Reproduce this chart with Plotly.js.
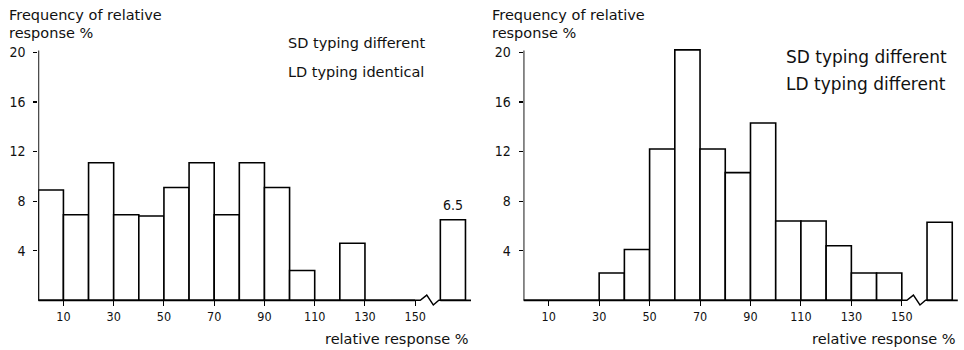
<!DOCTYPE html>
<html>
<head>
<meta charset="utf-8">
<script src="https://cdn.plot.ly/plotly-3.0.1.min.js"></script>
<style>
  html, body { margin: 0; padding: 0; background: #fff; }
  #chart { width: 964px; height: 350px; }
</style>
</head>
<body>
<div id="chart"></div>
<script>
// Relative response bins (lower edge, %). The last bin collects everything above 150
// and is drawn after a short break in the x axis.
const binStarts = [0, 10, 20, 30, 40, 50, 60, 70, 80, 90, 100, 110, 120, 130, 140, 150];
const binWidth = 10;
const breakGap = 10;

// Frequency of relative response (%) per bin
const ldIdentical = [8.9, 6.9, 11.1, 6.9, 6.8, 9.1, 11.1, 6.9, 11.1, 9.1, 2.4, 0, 4.6, 0, 0, 6.5];
const ldDifferent = [0, 0, 0, 2.2, 4.1, 12.2, 20.2, 12.2, 10.3, 14.3, 6.4, 6.4, 4.4, 2.2, 2.2, 6.3];

// Bins whose value is written above the bar (left panel)
const labelledLeft = [150];

const xTickVals = [10, 30, 50, 70, 90, 110, 130, 150];
const yTickVals = [4, 8, 12, 16, 20];

const panelTitles = [
  ['SD typing different', 'LD typing identical'],
  ['SD typing different', 'LD typing different']
];
const yTitleLines = ['Frequency of relative', 'response %'];
const xTitle = 'relative response %';

const textFont = 'DejaVu Sans, Noto Sans, sans-serif';
const numFont = 'Liberation Sans Narrow, DejaVu Sans Condensed, Arial Narrow, Liberation Sans, sans-serif';
const ink = '#111';

// Bin centre on the drawn axis (the overflow bin sits past the break)
const binCentre = s => (s >= 150 ? s + breakGap : s) + binWidth / 2;
const xs = binStarts.map(binCentre);

function barTrace(values, xa, ya) {
  return {
    type: 'bar',
    x: xs,
    y: values,
    width: binWidth,
    xaxis: xa,
    yaxis: ya,
    marker: { color: '#fff', line: { color: '#000', width: 1.6 } },
    hoverinfo: 'skip',
    showlegend: false
  };
}

function xAxis(domain) {
  return {
    domain: domain,
    range: [0, 172.4],
    tickvals: xTickVals,
    ticktext: xTickVals.map(String),
    ticks: 'inside',
    ticklen: 6,
    tickwidth: 1,
    tickcolor: '#000',
    ticklabelstandoff: 1,
    showline: false,
    showgrid: false,
    zeroline: false,
    tickfont: { family: numFont, size: 12.5, color: ink },
    fixedrange: true
  };
}

function yAxis(anchor) {
  return {
    domain: [0.1243, 0.8611],
    range: [-0.5, 20.3],
    anchor: anchor,
    tickvals: yTickVals,
    ticktext: yTickVals.map(String),
    ticks: 'outside',
    ticklen: 4,
    tickwidth: 1.2,
    tickcolor: '#000',
    ticklabelstandoff: 5,
    showline: false,
    showgrid: false,
    zeroline: false,
    tickfont: { family: numFont, size: 14, color: ink },
    fixedrange: true
  };
}

// Axis lines with the broken baseline between 150 and the overflow bin
function axisShapes(xr, yr) {
  const line = { color: '#000', width: 1.8 };
  return [
    { type: 'line', xref: xr, yref: yr, x0: 0, x1: 0, y0: 0, y1: 20.15, line: line, layer: 'above' },
    { type: 'line', xref: xr, yref: yr, x0: 0, x1: 150, y0: 0, y1: 0, line: line, layer: 'above' },
    { type: 'path', xref: xr, yref: yr, layer: 'above', line: { color: '#000', width: 1.4 },
      path: 'M150,0 L152,0 L154.6,0.42 L157.2,-0.38 L159.4,0 L160,0' },
    { type: 'line', xref: xr, yref: yr, x0: 160, x1: 172.2, y0: 0, y1: 0, line: line, layer: 'above' }
  ];
}

const annotations = [];
function text(x, y, s, size, anchor, family) {
  annotations.push({
    xref: 'paper', yref: 'paper', x: x / 964, y: 1 - y / 350,
    xanchor: anchor || 'left', yanchor: 'middle', align: 'left',
    text: s, showarrow: false,
    font: { family: family || textFont, size: size, color: ink }
  });
}

// Left panel labels
text(7, 15, yTitleLines[0], 14.5);
text(7, 33, yTitleLines[1], 14.5);
text(286, 43, panelTitles[0][0], 14.5);
text(286, 72, panelTitles[0][1], 14.5);
text(471, 339, xTitle, 14.5, 'right');
// Right panel labels
text(490, 15, yTitleLines[0], 14.5);
text(490, 33, yTitleLines[1], 14.5);
text(784, 57, panelTitles[1][0], 17);
text(784, 84, panelTitles[1][1], 17);
text(958, 339, xTitle, 14.5, 'right');

// Value printed above labelled bars
labelledLeft.forEach(s => {
  const i = binStarts.indexOf(s);
  annotations.push({
    xref: 'x', yref: 'y', x: binCentre(s), y: ldIdentical[i],
    yanchor: 'bottom', yshift: 5, showarrow: false,
    text: ldIdentical[i].toFixed(1),
    font: { family: numFont, size: 14, color: ink }
  });
});

const layout = {
  width: 964,
  height: 350,
  margin: { l: 0, r: 0, t: 0, b: 0 },
  paper_bgcolor: '#fff',
  plot_bgcolor: '#fff',
  bargap: 0,
  xaxis: Object.assign(xAxis([0.03973, 0.48911]), { anchor: 'y' }),
  yaxis: yAxis('x'),
  xaxis2: Object.assign(xAxis([0.54305, 0.99409]), { anchor: 'y2' }),
  yaxis2: yAxis('x2'),
  shapes: axisShapes('x', 'y').concat(axisShapes('x2', 'y2')),
  annotations: annotations
};

Plotly.newPlot('chart', [
  barTrace(ldIdentical, 'x', 'y'),
  barTrace(ldDifferent, 'x2', 'y2')
], layout, { staticPlot: true, displayModeBar: false });
</script>
</body>
</html>
